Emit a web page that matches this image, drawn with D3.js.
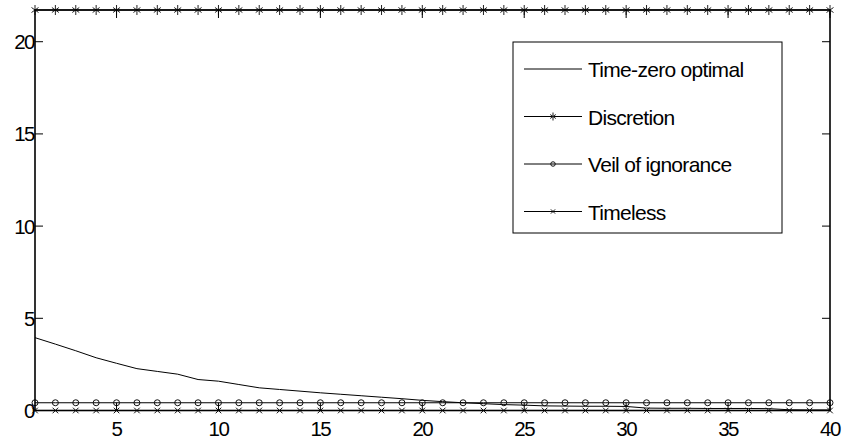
<!DOCTYPE html>
<html>
<head>
<meta charset="utf-8">
<script src="https://cdn.jsdelivr.net/npm/d3@7"></script>
<style>
body { margin: 0; background: #fff; }
text { font-family: "Liberation Sans", Arial, sans-serif; fill: #000; }
</style>
</head>
<body>
<svg width="844" height="443"></svg>
<script>
// periods 1..40
var periods = d3.range(1, 41)

// values
var time_zero = [3.95, 3.6, 3.24, 2.86, 2.56, 2.27, 2.12, 1.97, 1.68, 1.59,
                 1.41, 1.23, 1.14, 1.05, 0.96, 0.88, 0.80, 0.72, 0.64, 0.55,
                 0.48, 0.42, 0.37, 0.32, 0.29, 0.25, 0.24, 0.23, 0.23, 0.22,
                 0.13, 0.12, 0.12, 0.11, 0.11, 0.11, 0.10, 0.04, 0.03, 0.03]
var discretion = periods.map(function(){ return 21.72 })
var veil = periods.map(function(){ return 0.42 })
var timeless = periods.map(function(){ return 0 })

var x_ticks = [5, 10, 15, 20, 25, 30, 35, 40]
var y_ticks = [0, 5, 10, 15, 20]

var series = [
  {name: "Time-zero optimal", values: time_zero, marker: "none"},
  {name: "Discretion", values: discretion, marker: "star"},
  {name: "Veil of ignorance", values: veil, marker: "circle"},
  {name: "Timeless", values: timeless, marker: "cross"}
]

/*********
*geometry*
*********/
var ax_left = 35, ax_right = 830, ax_top = 10, ax_bottom = 410.5

var x = d3.scaleLinear().domain([1, 40]).range([ax_left, ax_right])
var y = d3.scaleLinear().domain([0, 21.72]).range([ax_bottom, ax_top])

var svg = d3.select("svg")

function draw_marker(g, type, cx, cy, s){
  if (type == "circle"){
    g.append("circle")
      .attr("cx", cx).attr("cy", cy).attr("r", s * 0.75)
      .attr("fill", "none").attr("stroke", "#111").attr("stroke-width", 1)
  }
  if (type == "cross"){
    g.append("path")
      .attr("d", "M" + (cx - s*0.7) + "," + (cy - s*0.7) + "L" + (cx + s*0.7) + "," + (cy + s*0.7)
               + "M" + (cx - s*0.7) + "," + (cy + s*0.7) + "L" + (cx + s*0.7) + "," + (cy - s*0.7))
      .attr("stroke", "#111").attr("stroke-width", 1).attr("fill", "none")
  }
  if (type == "star"){
    g.append("path")
      .attr("d", "M" + cx + "," + (cy - s) + "L" + cx + "," + (cy + s)
               + "M" + (cx - s*0.7) + "," + (cy - s*0.5) + "L" + (cx + s*0.7) + "," + (cy + s*0.5)
               + "M" + (cx - s*0.7) + "," + (cy + s*0.5) + "L" + (cx + s*0.7) + "," + (cy - s*0.5))
      .attr("stroke", "#222").attr("stroke-width", 1).attr("fill", "none")
  }
}

/*******
*series*
*******/
var line = d3.line()
  .x(function(d, i){ return x(periods[i]) })
  .y(function(d){ return y(d) })

var plot = svg.append("g").attr("class", "plot")

series.forEach(function(s){
  plot.append("path")
    .datum(s.values)
    .attr("d", line)
    .attr("fill", "none")
    .attr("stroke", "#000")
    .attr("stroke-width", 1)
  if (s.marker != "none"){
    var gm = plot.append("g").attr("class", "markers")
    var size = s.marker == "star" ? 5 : 4
    s.values.forEach(function(v, i){
      draw_marker(gm, s.marker, x(periods[i]), y(v), size)
    })
  }
})

/*****
*axes*
*****/
var tick_len = 8

var ax = svg.append("g").attr("class", "axes")
  .attr("stroke", "#000").attr("stroke-width", 1)

ax.append("rect")
  .attr("x", ax_left).attr("y", ax_top)
  .attr("width", ax_right - ax_left).attr("height", ax_bottom - ax_top)
  .attr("fill", "none").attr("stroke-width", 1.6)

ax.selectAll(".xt_bottom").data(x_ticks).enter().append("line")
  .attr("x1", x).attr("x2", x)
  .attr("y1", ax_bottom).attr("y2", ax_bottom - tick_len)
ax.selectAll(".xt_top").data(x_ticks).enter().append("line")
  .attr("x1", x).attr("x2", x)
  .attr("y1", ax_top).attr("y2", ax_top + tick_len)
ax.selectAll(".yt_left").data(y_ticks).enter().append("line")
  .attr("x1", ax_left).attr("x2", ax_left + tick_len)
  .attr("y1", y).attr("y2", y)
ax.selectAll(".yt_right").data(y_ticks).enter().append("line")
  .attr("x1", ax_right).attr("x2", ax_right - tick_len)
  .attr("y1", y).attr("y2", y)

svg.selectAll(".xlab").data(x_ticks).enter().append("text")
  .attr("x", x)
  .attr("y", 436)
  .attr("text-anchor", "middle")
  .style("font-size", "20.5px")
  .style("letter-spacing", "-1.5px")
  .text(function(d){ return d })

svg.selectAll(".ylab").data(y_ticks).enter().append("text")
  .attr("x", 34)
  .attr("y", function(d){ return y(d) + 7.5 })
  .attr("text-anchor", "end")
  .style("font-size", "20.5px")
  .style("letter-spacing", "-1.5px")
  .text(function(d){ return d })

/*******
*legend*
*******/
var leg = svg.append("g").attr("class", "legend")
leg.append("rect")
  .attr("x", 513).attr("y", 42)
  .attr("width", 269).attr("height", 191)
  .attr("fill", "#fff").attr("stroke", "#000").attr("stroke-width", 1)

series.forEach(function(s, i){
  var ly = 69 + i * 47.5
  leg.append("line")
    .attr("x1", 524).attr("x2", 582)
    .attr("y1", ly).attr("y2", ly)
    .attr("stroke", "#000").attr("stroke-width", 1)
  if (s.marker != "none") draw_marker(leg, s.marker, 553, ly, s.marker == "star" ? 4 : 3)
  leg.append("text")
    .attr("x", 588)
    .attr("y", ly + 8)
    .style("font-size", "21px")
    .style("letter-spacing", "-0.7px")
    .text(s.name)
})
</script>
</body>
</html>
